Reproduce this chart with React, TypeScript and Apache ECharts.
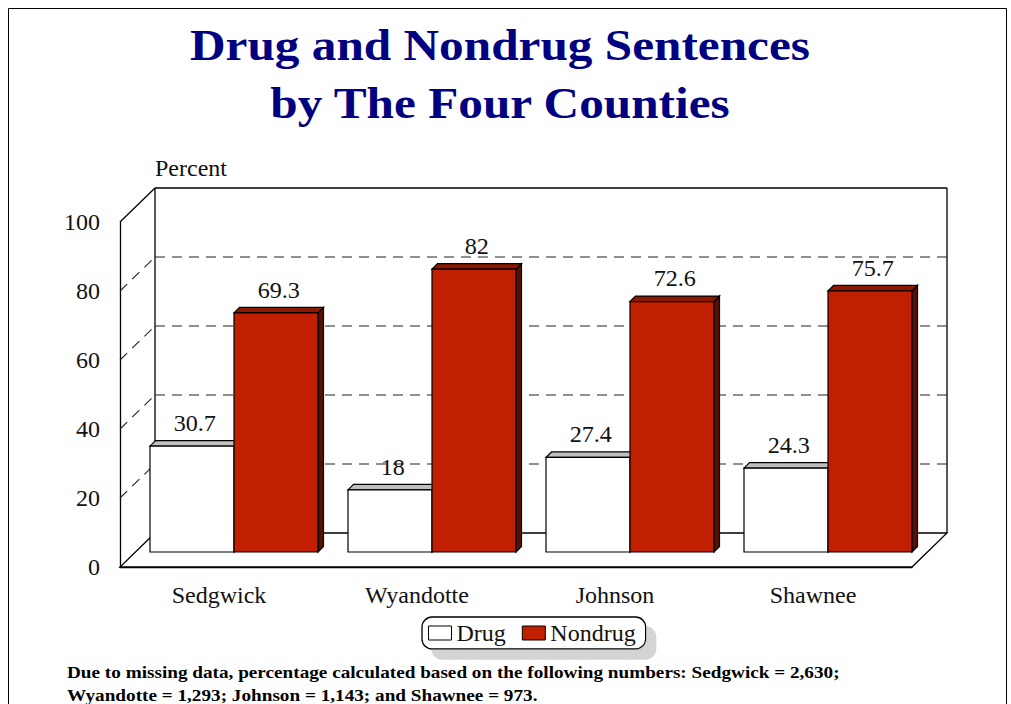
import React, { useEffect, useRef } from "react";
import * as echarts from "echarts";

const TITLE_LINES = ["Drug and Nondrug Sentences", "by The Four Counties"];
const Y_AXIS_NAME = "Percent";
const CATEGORIES = ["Sedgwick", "Wyandotte", "Johnson", "Shawnee"];
const SERIES_NAMES = ["Drug", "Nondrug"];
const DRUG = [30.7, 18, 27.4, 24.3];
const NONDRUG = [69.3, 82, 72.6, 75.7];
const Y_TICKS = [0, 20, 40, 60, 80, 100];
const FOOTNOTE_LINES = [
  "Due to missing data, percentage calculated based on the following numbers: Sedgwick = 2,630;",
  "Wyandotte = 1,293; Johnson = 1,143; and Shawnee = 973.",
];

const FONT = '"Liberation Serif", "Times New Roman", serif';
const TEXT_STRETCH = 1.12;
const WALL_DX = 35;
const WALL_DY = 34;
const BAR_OFFSET = 15;
const BAR_THICK = 5.5;
const GROUP_GAP = 15;

const Y_MIN = Y_TICKS[0];
const Y_MAX = Y_TICKS[Y_TICKS.length - 1];

function frameRenderer(params: any, api: any) {
  const cs = params.coordSys;
  const v = api.value(1);
  const y = api.coord([0, v])[1];
  const x0 = cs.x;
  const x1 = cs.x + cs.width;
  const solid = { stroke: "#000", lineWidth: 1.3, fill: "none" };
  const dashed = { stroke: "#222", lineWidth: 1.1, lineDash: [10, 7], fill: "none" };
  const children: any[] = [];
  if (v === Y_MIN) {
    const yTopPx = api.coord([0, Y_MAX])[1];
    children.push({
      type: "polygon",
      shape: { points: [[x0, y], [x1, y], [x1 + WALL_DX, y - WALL_DY], [x0 + WALL_DX, y - WALL_DY]] },
      style: { fill: "#fff", stroke: "#000", lineWidth: 1.3 },
    });
    children.push({
      type: "line",
      shape: { x1: x0 + WALL_DX, y1: yTopPx - WALL_DY, x2: x0 + WALL_DX, y2: y - WALL_DY },
      style: solid,
    });
    children.push({
      type: "line",
      shape: { x1: x1 + WALL_DX, y1: yTopPx - WALL_DY, x2: x1 + WALL_DX, y2: y - WALL_DY },
      style: solid,
    });
  } else {
    const st = v === Y_MAX ? solid : dashed;
    children.push({
      type: "line",
      shape: { x1: x0, y1: y, x2: x0 + WALL_DX, y2: y - WALL_DY },
      style: st,
    });
    children.push({
      type: "line",
      shape: { x1: x0 + WALL_DX, y1: y - WALL_DY, x2: x1 + WALL_DX, y2: y - WALL_DY },
      style: st,
    });
  }
  return { type: "group", children };
}

function makeBarRenderer(slot: number, face: string, top: string, side: string) {
  return (params: any, api: any) => {
    const idx = api.value(0);
    const val = api.value(1);
    const p = api.coord([idx, val]);
    const base = api.coord([idx, 0]);
    const band = api.size([1, 0])[0];
    const barW = (band - 2 * GROUP_GAP) / 2;
    const left = p[0] - band / 2 + BAR_OFFSET + GROUP_GAP + slot * barW;
    const yTop = p[1] - BAR_OFFSET;
    const yBase = base[1] - BAR_OFFSET;
    const t = BAR_THICK;
    const edge = { stroke: "#000", lineWidth: 1.2 };
    return {
      type: "group",
      children: [
        {
          type: "polygon",
          shape: {
            points: [
              [left + barW, yTop],
              [left + barW + t, yTop - t],
              [left + barW + t, yBase - t],
              [left + barW, yBase],
            ],
          },
          style: { fill: side, ...edge },
        },
        {
          type: "polygon",
          shape: {
            points: [
              [left, yTop],
              [left + t, yTop - t],
              [left + barW + t, yTop - t],
              [left + barW, yTop],
            ],
          },
          style: { fill: top, ...edge },
        },
        {
          type: "rect",
          shape: { x: left, y: yTop, width: barW, height: yBase - yTop },
          style: { fill: face, ...edge },
        },
        {
          type: "text",
          x: left + barW / 2 + t / 2,
          y: yTop - t - 6,
          scaleX: 1.05,
          style: {
            text: String(val),
            fontSize: 23,
            fontFamily: FONT,
            fill: "#111",
            align: "center",
            verticalAlign: "bottom",
          },
        },
      ],
    };
  };
}

export default function App() {
  const ref = useRef<HTMLDivElement>(null);
  useEffect(() => {
    if (!ref.current) return;
    const chart = echarts.init(ref.current, undefined, { renderer: "svg" });
    chart.setOption({
      animation: false,
      backgroundColor: "#fff",
      grid: { left: 120, top: 222, width: 792, height: 345 },
      xAxis: {
        type: "category",
        data: CATEGORIES,
        axisTick: { show: false },
        axisLine: { lineStyle: { color: "#000", width: 1.3 } },
        axisLabel: { fontSize: 24, fontFamily: FONT, color: "#111", margin: 16 },
        splitLine: { show: false },
      },
      yAxis: {
        type: "value",
        min: Y_MIN,
        max: Y_MAX,
        interval: 20,
        name: Y_AXIS_NAME,
        nameLocation: "end",
        nameGap: 42,
        nameTextStyle: {
          fontSize: 24,
          fontFamily: FONT,
          color: "#111",
          align: "left",
          padding: [0, 0, 0, 35],
        },
        axisLine: { show: true, lineStyle: { color: "#000", width: 1.3 } },
        axisTick: { show: false },
        splitLine: { show: false },
        axisLabel: { fontSize: 24, fontFamily: FONT, color: "#111", margin: 20 },
      },
      legend: {
        data: SERIES_NAMES,
        left: 422,
        top: 617,
        icon: "rect",
        itemWidth: 23,
        itemHeight: 14,
        itemGap: 16,
        padding: [4, 10, 4, 6],
        borderColor: "#000",
        borderWidth: 1.3,
        borderRadius: 10,
        backgroundColor: "#fff",
        shadowColor: "#d4d4d4",
        shadowBlur: 0,
        shadowOffsetX: 10,
        shadowOffsetY: 10,
        itemStyle: { borderColor: "#000", borderWidth: 1 },
        textStyle: { fontSize: 24, fontFamily: FONT, color: "#111" },
      },
      graphic: [
        {
          type: "rect",
          silent: true,
          shape: { x: 8.5, y: 8.5, width: 998, height: 720 },
          style: { fill: "none", stroke: "#000", lineWidth: 1 },
        },
        ...TITLE_LINES.map((line, i) => ({
          type: "text",
          silent: true,
          x: 500,
          y: 45 + i * 58,
          scaleX: TEXT_STRETCH,
          style: {
            text: line,
            font: `bold 44px ${FONT}`,
            fill: "#000080",
            align: "center",
            verticalAlign: "middle",
          },
        })),
        {
          type: "text",
          silent: true,
          x: 67,
          y: 661,
          scaleX: 1.13,
          style: {
            text: FOOTNOTE_LINES.join("\n"),
            font: `bold 17px ${FONT}`,
            lineHeight: 23,
            fill: "#000",
            verticalAlign: "top",
          },
        },
      ],
      series: [
        {
          type: "custom",
          name: "frame",
          z: 1,
          coordinateSystem: "cartesian2d",
          encode: { x: 0, y: 1 },
          data: Y_TICKS.map((v) => [0, v]),
          renderItem: frameRenderer,
          silent: true,
        },
        {
          type: "custom",
          name: SERIES_NAMES[0],
          z: 2,
          coordinateSystem: "cartesian2d",
          encode: { x: 0, y: 1 },
          itemStyle: { color: "#ffffff", borderColor: "#000", borderWidth: 1 },
          data: DRUG.map((v, i) => [i, v]),
          renderItem: makeBarRenderer(0, "#ffffff", "#c0c0c0", "#a0a0a0"),
        },
        {
          type: "custom",
          name: SERIES_NAMES[1],
          z: 3,
          coordinateSystem: "cartesian2d",
          encode: { x: 0, y: 1 },
          itemStyle: { color: "#c02000", borderColor: "#000", borderWidth: 1 },
          data: NONDRUG.map((v, i) => [i, v]),
          renderItem: makeBarRenderer(1, "#c02000", "#8c1800", "#5a1000"),
        },
      ],
    });
    return () => chart.dispose();
  }, []);
  return (
    <div
      ref={ref}
      style={{ position: "fixed", left: 0, top: 0, width: 1011, height: 704 }}
    />
  );
}
